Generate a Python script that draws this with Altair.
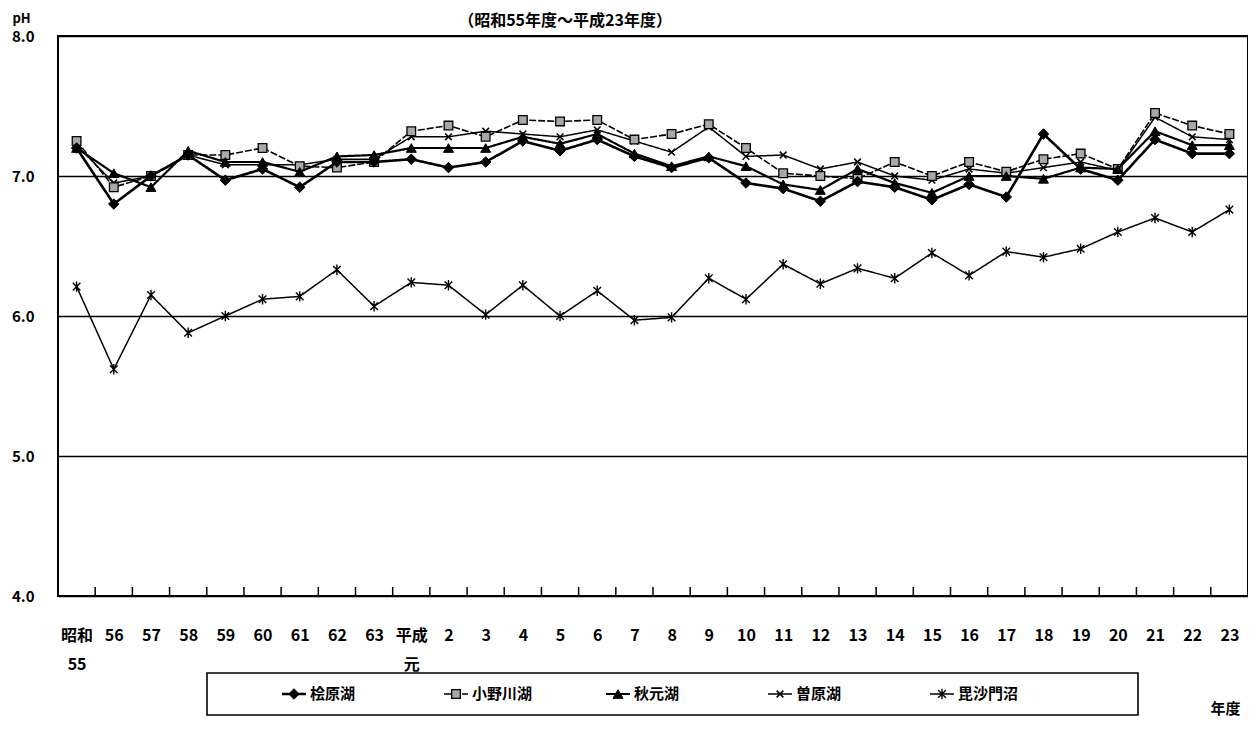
import altair as alt
import pandas as pd

# ---- data ----
years = ["昭和\n55", "56", "57", "58", "59", "60", "61", "62", "63", "平成\n元",
         "2", "3", "4", "5", "6", "7", "8", "9", "10", "11", "12", "13", "14", "15",
         "16", "17", "18", "19", "20", "21", "22", "23"]
lakes = ["桧原湖", "小野川湖", "秋元湖", "曽原湖", "毘沙門沼"]

hibara = [7.2, 6.8, 7.0, 7.15, 6.97, 7.05, 6.92, 7.1, 7.1, 7.12, 7.06, 7.1, 7.25, 7.18, 7.26, 7.14,
          7.06, 7.13, 6.95, 6.91, 6.82, 6.96, 6.92, 6.83, 6.94, 6.85, 7.3, 7.05, 6.97, 7.26, 7.16, 7.16]
onogawa = [7.25, 6.92, 7.0, 7.15, 7.15, 7.2, 7.07, 7.06, 7.1, 7.32, 7.36, 7.28, 7.4, 7.39, 7.4, 7.26,
           7.3, 7.37, 7.2, 7.02, 7.0, 6.98, 7.1, 7.0, 7.1, 7.03, 7.12, 7.16, 7.05, 7.45, 7.36, 7.3]
akimoto = [7.2, 7.02, 6.92, 7.18, 7.1, 7.1, 7.03, 7.14, 7.15, 7.2, 7.2, 7.2, 7.28, 7.23, 7.3, 7.16,
           7.07, 7.14, 7.07, 6.94, 6.9, 7.05, 6.95, 6.88, 7.0, 7.0, 6.98, 7.06, 7.05, 7.32, 7.22, 7.22]
sohara = [7.22, 6.95, 7.0, 7.15, 7.08, 7.08, 7.08, 7.12, 7.12, 7.28, 7.28, 7.32, 7.3, 7.28, 7.33, 7.25,
          7.17, 7.35, 7.14, 7.15, 7.05, 7.1, 7.0, 6.97, 7.05, 7.02, 7.06, 7.1, 7.04, 7.42, 7.28, 7.26]
bishamon = [6.21, 5.62, 6.15, 5.88, 6.0, 6.12, 6.14, 6.33, 6.07, 6.24, 6.22, 6.01, 6.22, 6.0, 6.18, 5.97,
            5.99, 6.27, 6.12, 6.37, 6.23, 6.34, 6.27, 6.45, 6.29, 6.46, 6.42, 6.48, 6.6, 6.7, 6.6, 6.76]

y_ticks = [4, 5, 6, 7, 8]
title_text = "（昭和55年度～平成23年度）"

series = {"桧原湖": hibara, "小野川湖": onogawa, "秋元湖": akimoto, "曽原湖": sohara, "毘沙門沼": bishamon}
df = pd.DataFrame([{"year": y, "lake": k, "ph": v}
                   for k in lakes for y, v in zip(years, series[k])])
year_df = pd.DataFrame({"year": years})
legend_df = pd.DataFrame({"lake": lakes})
one = pd.DataFrame({"k": [0]})

FONT = "Noto Sans CJK JP"
W, H = 1190, 560
STEP = W / len(years)

CROSS = "M-1,-1L1,1M-1,1L1,-1"
STAR = "M-0.8,-0.8L0.8,0.8M-0.8,0.8L0.8,-0.8M0,-1.1L0,1.1"
SEG = "M-1,0L1,0"

styles = {
    "桧原湖": dict(shape="diamond", fill="black", size=110, sw=2.6, dash=[1, 0], msw=1),
    "小野川湖": dict(shape="square", fill="#a8a8a8", size=75, sw=1.6, dash=[7, 2], msw=1.3),
    "秋元湖": dict(shape="triangle-up", fill="black", size=100, sw=2.2, dash=[1, 0], msw=1),
    "曽原湖": dict(shape=CROSS, fill=None, size=45, sw=1.5, dash=[1, 0], msw=1.5),
    "毘沙門沼": dict(shape=STAR, fill=None, size=90, sw=1.5, dash=[1, 0], msw=1.4),
}

x_axis = alt.Axis(
    labelExpr="split(datum.label, '\\n')", labelAngle=0, labelOverlap=False, labelFlush=False,
    ticks=False, domain=False, grid=False, labelPadding=31, labelLineHeight=29,
    labelFont=FONT, labelFontSize=16, labelFontWeight="bold", labelColor="black",
    labelBaseline="top",
    title="年度", titleFont=FONT, titleFontSize=15, titleFontWeight="bold", titleColor="black",
    titleX=1167, titleY=112, titleAngle=0, titleAlign="center", titleBaseline="middle",
)
y_axis = alt.Axis(
    values=y_ticks, format=".1f", ticks=False, domain=False, grid=True,
    gridColor="black", gridWidth=1.6, labelPadding=24,
    labelFont=FONT, labelFontSize=15, labelFontWeight="bold", labelColor="black",
    title="pH", titleFont=FONT, titleFontSize=13, titleFontWeight="bold", titleColor="black",
    titleAngle=0, titleX=-46, titleY=-18, titleAlign="left", titleBaseline="middle",
)
x_enc = alt.X("year:N", sort=years,
              scale=alt.Scale(type="point", domain=years, padding=0.5), axis=x_axis)
y_enc = alt.Y("ph:Q", scale=alt.Scale(domain=[4, 8], nice=False, zero=False), axis=y_axis)

base = alt.Chart(df).encode(x=x_enc, y=y_enc)

layers = []
# inward ticks on the bottom axis at the category boundaries
layers.append(
    alt.Chart(year_df).mark_rule(color="black", strokeWidth=1.5).encode(
        x=x_enc, xOffset=alt.value(-STEP / 2), y=alt.value(H), y2=alt.value(H - 9))
)

for lake in ["毘沙門沼", "曽原湖", "小野川湖", "秋元湖", "桧原湖"]:
    st = styles[lake]
    sub = base.transform_filter(alt.datum.lake == lake)
    layers.append(sub.mark_line(color="black", strokeWidth=st["sw"], strokeDash=st["dash"]))
    if st["fill"]:
        layers.append(sub.mark_point(shape=st["shape"], filled=True, fill=st["fill"], stroke="black",
                                     strokeWidth=st["msw"], size=st["size"], opacity=1))
    else:
        layers.append(sub.mark_point(shape=st["shape"], filled=False, stroke="black",
                                     strokeWidth=st["msw"], size=st["size"], opacity=1))

# heading at the very top
layers.append(
    alt.Chart(one).mark_text(text=title_text, font=FONT, fontSize=16, fontWeight="bold",
                             color="black", align="center", baseline="middle").encode(
        x=alt.value(507), y=alt.value(-15))
)

main = alt.layer(*layers)

# ---- manual legend (line + marker + label) ----
lx = alt.X("lake:N", sort=lakes, scale=alt.Scale(type="point", domain=lakes, range=[236, 884], padding=0),
           axis=None)
LY = 658
leg_layers = [
    alt.Chart(one).mark_rect(fill="white", stroke="black", strokeWidth=1.6).encode(
        x=alt.value(149), x2=alt.value(1080), y=alt.value(637), y2=alt.value(679))
]
for lake in lakes:
    st = styles[lake]
    sub = alt.Chart(legend_df).transform_filter(alt.datum.lake == lake).encode(x=lx, y=alt.value(LY))
    leg_layers.append(sub.mark_point(shape=SEG, size=576, stroke="black", strokeWidth=st["sw"],
                                     strokeDash=st["dash"], filled=False, opacity=1))
    if st["fill"]:
        leg_layers.append(sub.mark_point(shape=st["shape"], filled=True, fill=st["fill"], stroke="black",
                                         strokeWidth=st["msw"], size=st["size"], opacity=1))
    else:
        leg_layers.append(sub.mark_point(shape=st["shape"], filled=False, stroke="black",
                                         strokeWidth=st["msw"], size=st["size"], opacity=1))
leg_layers.append(
    alt.Chart(legend_df).mark_text(align="left", baseline="middle", dx=16, font=FONT, fontSize=15,
                                   fontWeight="bold", color="black").encode(
        x=lx, y=alt.value(LY), text="lake:N")
)
legend = alt.layer(*leg_layers)

chart = alt.layer(main, legend).resolve_scale(x="independent").properties(
    width=W, height=H,
    autosize=alt.AutoSizeParams(type="none"),
    padding={"left": 50, "top": 28, "right": 0, "bottom": 151},
    background="white",
).configure_view(stroke="black", strokeWidth=2)

chart.save("out.html", embed_options={"renderer": "svg", "actions": False})
